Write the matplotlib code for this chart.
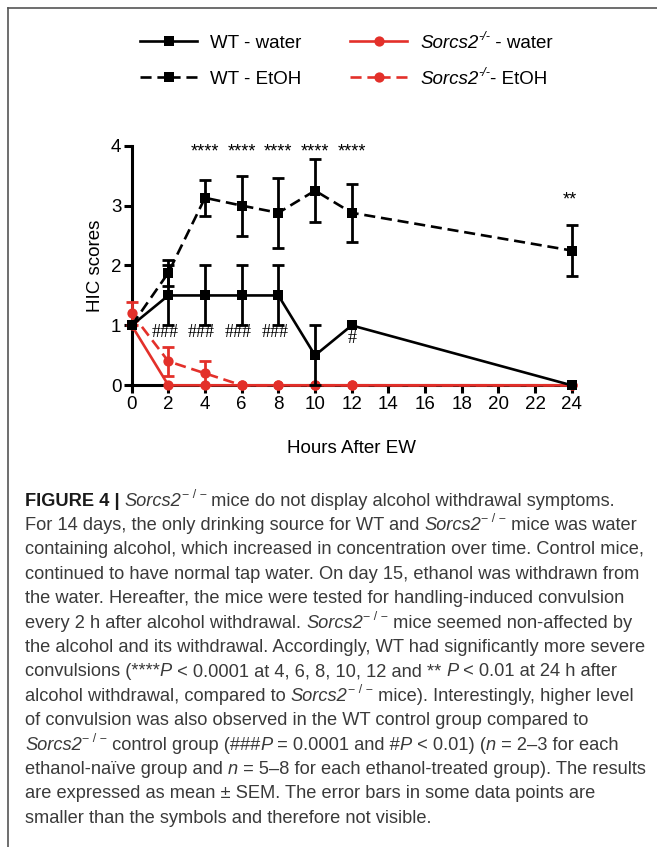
import re
import matplotlib
matplotlib.use("Agg")
import matplotlib.pyplot as plt
from matplotlib.lines import Line2D
import numpy as np

plt.rcParams["font.family"] = ["Liberation Sans", "DejaVu Sans"]

# ---------------- data ----------------
hours = [0, 2, 4, 6, 8, 10, 12, 24]
wt_water = [1.0, 1.5, 1.5, 1.5, 1.5, 0.5, 1.0, 0.0]
wt_water_sem = [0.0, 0.5, 0.5, 0.5, 0.5, 0.5, 0.0, 0.0]
wt_etoh = [1.0, 1.88, 3.13, 3.0, 2.88, 3.25, 2.88, 2.25]
wt_etoh_sem = [0.0, 0.22, 0.3, 0.5, 0.58, 0.52, 0.48, 0.42]
ko_water = [1.0, 0.0, 0.0, 0.0, 0.0, 0.0, 0.0, 0.0]
ko_water_sem = [0.0, 0.0, 0.0, 0.0, 0.0, 0.0, 0.0, 0.0]
ko_etoh = [1.2, 0.4, 0.2, 0.0, 0.0, 0.0, 0.0, 0.0]
ko_etoh_sem = [0.19, 0.24, 0.2, 0.0, 0.0, 0.0, 0.0, 0.0]

star_hours = [4, 6, 8, 10, 12]
star_label = "****"
star24_hour = 24
star24_label = "**"
hash_hours = [2, 4, 6, 8]
hash_label = "###"
hash12_hour = 12
hash12_label = "#"

x_ticks = list(range(0, 25, 2))
y_ticks = [0, 1, 2, 3, 4]

legend_labels = ["WT - water", "WT - EtOH",
                 "<i>Sorcs2</i><si>-/-</si> - water",
                 "<i>Sorcs2</i><si>-/-</si>- EtOH"]

SUP = "<s>− / −</s> "
caption_lines = [
    "<b>FIGURE 4 | </b><i>Sorcs2</i>" + SUP + "mice do not display alcohol withdrawal symptoms.",
    "For 14 days, the only drinking source for WT and <i>Sorcs2</i>" + SUP + "mice was water",
    "containing alcohol, which increased in concentration over time. Control mice,",
    "continued to have normal tap water. On day 15, ethanol was withdrawn from",
    "the water. Hereafter, the mice were tested for handling-induced convulsion",
    "every 2 h after alcohol withdrawal. <i>Sorcs2</i>" + SUP + "mice seemed non-affected by",
    "the alcohol and its withdrawal. Accordingly, WT had significantly more severe",
    "convulsions (****<i>P</i> < 0.0001 at 4, 6, 8, 10, 12 and ** <i>P</i> < 0.01 at 24 h after",
    "alcohol withdrawal, compared to <i>Sorcs2</i>" + SUP + "mice). Interestingly, higher level",
    "of convulsion was also observed in the WT control group compared to",
    "<i>Sorcs2</i>" + SUP + "control group (###<i>P</i> = 0.0001 and #<i>P</i> < 0.01) (<i>n</i> = 2–3 for each",
    "ethanol-naïve group and <i>n</i> = 5–8 for each ethanol-treated group). The results",
    "are expressed as mean ± SEM. The error bars in some data points are",
    "smaller than the symbols and therefore not visible.",
]

# ---------------- figure ----------------
W, H = 657, 847
fig = plt.figure(figsize=(W / 100, H / 100), dpi=100)
renderer = fig.canvas.get_renderer()
RED = "#e3302a"
BLACK = "#000000"

TAG = re.compile(r"<(si|s|i|b)>(.*?)</\1>")


def parse(markup):
    segs, pos = [], 0
    for m in TAG.finditer(markup):
        if m.start() > pos:
            segs.append((markup[pos:m.start()], "n"))
        segs.append((m.group(2), m.group(1)))
        pos = m.end()
    if pos < len(markup):
        segs.append((markup[pos:], "n"))
    return segs


def seg_kw(style, fs):
    kw = dict(fontsize=fs)
    if style == "i":
        kw["style"] = "italic"
    elif style == "b":
        kw["weight"] = "bold"
    elif style == "s":
        kw["fontsize"] = fs * 0.68
    elif style == "si":
        kw["fontsize"] = fs * 0.68
        kw["style"] = "italic"
    return kw


def width_px(text, kw):
    t1 = fig.text(0, 0, text + "|", **kw)
    t2 = fig.text(0, 0, "|", **kw)
    w = t1.get_window_extent(renderer).width - t2.get_window_extent(renderer).width
    t1.remove()
    t2.remove()
    return w


def rich(xpx, ypx, markup, fs, color, draw=True, bold_color=None):
    cur = xpx
    for text, style in parse(markup):
        kw = seg_kw(style, fs)
        w = width_px(text, kw)
        if draw:
            dy = fs * 0.42 * 100 / 72 if style in ("s", "si") else 0
            c = bold_color if (style == "b" and bold_color) else color
            fig.text(cur / W, 1 - (ypx - dy) / H, text, color=c,
                     va="baseline", **kw)
        cur += w
    return cur - xpx


x0, x1 = 131.7, 571.7
y0, y1 = 385.3, 145.7
ax = fig.add_axes([x0 / W, 1 - y0 / H, (x1 - x0) / W, (y0 - y1) / H])
ax.set_xlim(0, 24)
ax.set_ylim(0, 4)

lw = 1.9
ms = 7.4
dash = (0, (4.2, 2.2))


def draw(y, e, color, marker, ls, z):
    y = np.asarray(y, float)
    e = np.asarray(e, float)
    xs = np.asarray(hours, float)
    m = e > 0
    ax.errorbar(xs[m], y[m], yerr=e[m], fmt="none", ecolor=color,
                elinewidth=2.0, capsize=4.6, capthick=2.0, zorder=z,
                clip_on=False)
    ax.plot(xs, y, color=color, lw=lw, ls=ls, marker=marker, ms=ms,
            markeredgewidth=0, zorder=z + 0.5, clip_on=False)


draw(ko_water, ko_water_sem, RED, "o", "-", 3)
draw(ko_etoh, ko_etoh_sem, RED, "o", dash, 3.2)
draw(wt_water, wt_water_sem, BLACK, "s", "-", 4)
draw(wt_etoh, wt_etoh_sem, BLACK, "s", dash, 4.2)

for s in ["top", "right"]:
    ax.spines[s].set_visible(False)
for s in ["left", "bottom"]:
    ax.spines[s].set_linewidth(2.2)
ax.set_xticks(x_ticks)
ax.set_yticks(y_ticks)
ax.tick_params(axis="both", direction="out", length=6, width=2.2,
               labelsize=13.5, colors="black")
ax.tick_params(axis="x", pad=1.5)
ax.tick_params(axis="y", pad=1.5)
ax.set_ylabel("HIC scores", fontsize=13.5, labelpad=5)
ax.set_xlabel("Hours After EW", fontsize=13.5, labelpad=20)

for h in star_hours:
    ax.text(h, 3.90, star_label, ha="center", va="center", fontsize=13)
ax.text(star24_hour - 0.1, 3.10, star24_label, ha="center", va="center",
        fontsize=13)
for h in hash_hours:
    ax.text(h - 0.2, 0.88, hash_label, ha="center", va="center",
            fontsize=13, family="Liberation Serif")
ax.text(hash12_hour, 0.78, hash12_label, ha="center", va="center",
        fontsize=13, family="Liberation Serif")

# manual legend
leg_styles = [(BLACK, "s", "-"), (BLACK, "s", dash), (RED, "o", "-"), (RED, "o", dash)]
col_x = [140, 350]
row_y = [41, 77]
hlen = 57
for k, (color, mk, ls) in enumerate(leg_styles):
    col, row = k // 2, k % 2
    xa = col_x[col]
    xb = xa + hlen
    xm = (xa + xb) / 2
    yy = 1 - row_y[row] / H
    for xs_ in ([xa, xm], [xb, xm]):
        fig.add_artist(Line2D([xs_[0] / W, xs_[1] / W], [yy, yy], color=color,
                              lw=lw, ls=ls))
    fig.add_artist(Line2D([xm / W], [yy], color=color, marker=mk, ms=ms, mew=0,
                          ls="none"))
    rich(xb + 13, row_y[row] + 6.5, legend_labels[k], 13.5, BLACK)

# frame lines
fig.add_artist(Line2D([8 / W, 1.0], [1 - 8.5 / H, 1 - 8.5 / H],
                      color="#555555", lw=1.2))
fig.add_artist(Line2D([8 / W, 8 / W], [0, 1 - 8.5 / H],
                      color="#555555", lw=1.2))

# caption
CAP_COLOR = "#3a3a3a"
left_px = 25
target_w = 614.0
w12 = rich(0, 0, caption_lines[1], 12, CAP_COLOR, draw=False)
fs = 12 * target_w / w12

base0 = 505.5
step = 24.4
for i, line in enumerate(caption_lines):
    rich(left_px, base0 + i * step, line, fs, CAP_COLOR, bold_color="#1a1a1a")

fig.savefig("out.png", dpi=100)
